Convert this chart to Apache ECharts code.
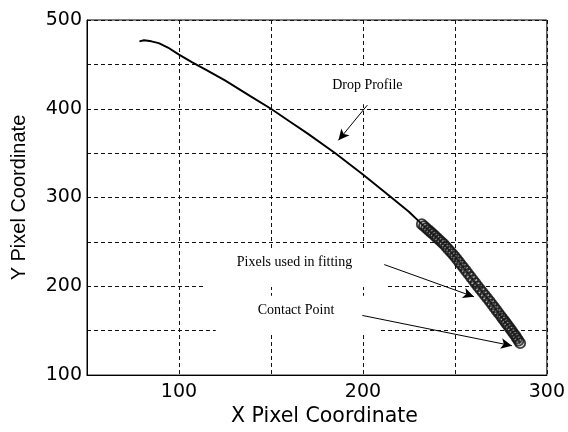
<!DOCTYPE html>
<html>
<head>
<meta charset="utf-8">
<script src="https://cdn.jsdelivr.net/npm/echarts@6/dist/echarts.min.js"></script>
<style>
  html, body { margin: 0; padding: 0; background: #fff; }
  #chart { width: 568px; height: 432px; }
</style>
</head>
<body>
<div id="chart"></div>
<script>
// Traced drop edge (image pixel coordinates), apex down to the start of the fitted region
const profileX = [78.5, 81, 85, 89, 94, 100, 107, 115, 125, 139, 150, 160, 170, 185, 200, 215, 225];
const profileY = [476, 477.2, 476, 474, 469, 461, 452.5, 443.5, 432, 414, 400, 386, 372, 350, 326, 301, 284];

// Edge pixels used in the fit, ending at the contact point
const fitX = [232.0, 233.2, 234.4, 235.6, 236.8, 238.0, 239.2, 240.4, 241.6, 242.8,
              244.0, 245.2, 246.4, 247.6, 248.8, 250.0, 251.2, 252.4, 253.6, 254.8,
              256.0, 257.3, 258.6, 259.9, 261.2, 262.5, 263.8, 265.1, 266.4, 267.7,
              269.0, 270.2, 271.4, 272.6, 273.8, 275.0, 276.0, 277.0, 278.0, 279.0,
              280.0, 281.0, 282.0, 283.0, 283.8, 284.6, 285.5];
const fitY = [270.0, 267.8, 265.6, 263.4, 261.2, 259.0, 256.7, 254.4, 252.1, 249.8,
              247.5, 244.7, 241.9, 239.1, 236.3, 233.5, 230.3, 227.1, 223.9, 220.7,
              217.5, 214.0, 210.5, 207.0, 203.5, 200.0, 196.6, 193.2, 189.8, 186.4,
              183.0, 179.7, 176.4, 173.1, 169.8, 166.5, 163.7, 160.9, 158.1, 155.3,
              152.5, 149.7, 146.8, 144.0, 141.4, 138.9, 136.0];

// Labelled ticks (grid lines every 50)
const xTickLabels = [100, 200, 300];
const yTickLabels = [100, 200, 300, 400, 500];

const profileData = profileX.map((x, i) => [x, profileY[i]])
  .concat(fitX.map((x, i) => [x, fitY[i]]));
const fitData = fitX.map((x, i) => [x, fitY[i]]);

const gridDash = { color: '#111', width: 1, type: [4, 3] };
const tickFont = { color: '#000', fontFamily: 'DejaVu Sans', fontSize: 19 };

const arrows = [
  [[202.4, 404.1], [186.7, 364.5]],
  [[211.6, 224.5], [260.4, 188.2]],
  [[199.7, 167.2], [281.0, 133.1]]
];

const option = {
  animation: false,
  backgroundColor: '#fff',
  grid: { left: 87, right: 20, top: 20, bottom: 49, show: true, borderColor: '#000', borderWidth: 1, backgroundColor: 'transparent' },
  xAxis: {
    type: 'value', min: 50, max: 300, interval: 50,
    axisLine: { show: true, onZero: false, lineStyle: { color: '#000', width: 1 } },
    axisTick: { show: false },
    splitLine: { show: true, lineStyle: gridDash },
    axisLabel: Object.assign({ margin: 7, formatter: v => xTickLabels.includes(v) ? String(v) : '' }, tickFont),
    name: 'X Pixel Coordinate', nameLocation: 'middle', nameGap: 29,
    nameTextStyle: { color: '#000', fontFamily: 'DejaVu Sans', fontSize: 20.5, padding: [0, 0, 0, 15] }
  },
  yAxis: {
    type: 'value', min: 100, max: 500, interval: 50,
    axisLine: { show: true, onZero: false, lineStyle: { color: '#000', width: 1 } },
    axisTick: { show: false },
    splitLine: { show: true, lineStyle: gridDash },
    axisLabel: Object.assign({ margin: 5, formatter: v => yTickLabels.includes(v) ? String(v) : '' }, tickFont),
    name: 'Y Pixel Coordinate', nameLocation: 'middle', nameGap: 58,
    nameTextStyle: { color: '#000', fontFamily: 'Liberation Sans', fontSize: 20 }
  },
  series: [
    {
      name: 'Drop Profile', type: 'line', data: profileData,
      showSymbol: false, symbol: 'none', z: 3,
      lineStyle: { color: '#000', width: 1.9 },
      markLine: {
        silent: true, z: 4,
        symbol: ['none', 'arrow'], symbolSize: [8, 11],
        label: { show: false },
        lineStyle: { color: '#000', width: 1, type: 'solid' },
        emphasis: { disabled: true },
        data: arrows.map(a => [{ coord: a[0] }, { coord: a[1] }])
      }
    },
    {
      name: 'Pixels used in fitting', type: 'scatter', data: fitData, z: 5,
      symbol: 'circle', symbolSize: 10,
      itemStyle: { color: 'rgba(90,90,90,0.25)', borderColor: '#111', borderWidth: 1.8 }
    }
  ]
};

const chart = echarts.init(document.getElementById('chart'));
chart.setOption(option);

// Annotation boxes (white backgrounds that interrupt the grid) and labels, placed in data space
const px = (x, y) => chart.convertToPixel({ gridIndex: 0 }, [x, y]);
function box(x0, y0, x1, y1) {
  const a = px(x0, y0), b = px(x1, y1);
  return { type: 'rect', z: 1, silent: true,
    shape: { x: a[0], y: a[1], width: b[0] - a[0], height: b[1] - a[1] },
    style: { fill: '#fff' } };
}
function label(text, x, y) {
  const p = px(x, y);
  return { type: 'text', z: 10, silent: true, x: p[0], y: p[1],
    style: { text: text, fill: '#000', font: '14px "Liberation Serif"', align: 'center', verticalAlign: 'middle' } };
}
chart.setOption({
  graphic: [
    box(180.7, 444.9, 224.1, 405.2),
    box(113.4, 242.1, 212.1, 199.2),
    box(120.0, 189.3, 208.9, 145.2),
    label('Drop Profile', 202.4, 426.2),
    label('Pixels used in fitting', 162.8, 226.7),
    label('Contact Point', 163.6, 172.7)
  ]
});
</script>
</body>
</html>
